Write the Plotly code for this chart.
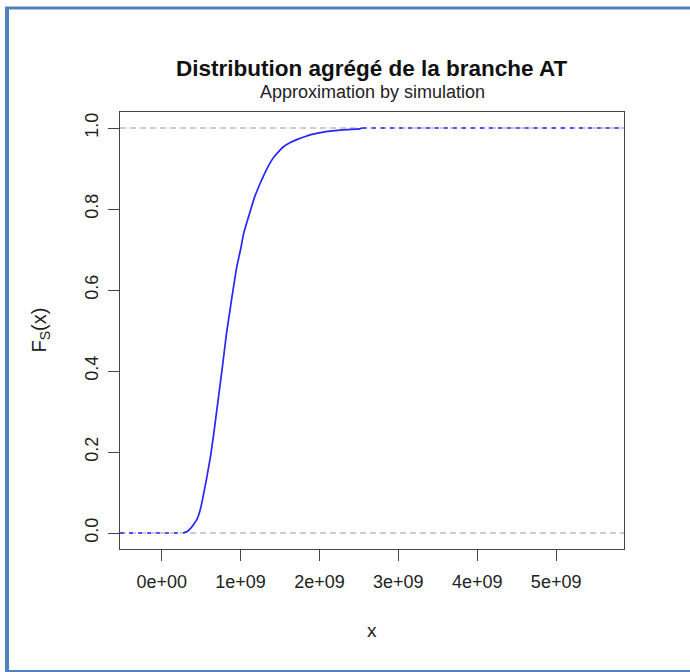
import plotly.graph_objects as go

# ECDF of simulated aggregate loss
x_vals = [0.27e9, 0.32e9, 0.36e9, 0.40e9, 0.45e9, 0.49e9, 0.52e9, 0.57e9, 0.62e9, 0.66e9,
          0.71e9, 0.77e9, 0.82e9, 0.885e9, 0.95e9, 1.00e9, 1.04e9, 1.10e9, 1.17e9,
          1.23e9, 1.28e9, 1.35e9, 1.41e9, 1.48e9, 1.54e9, 1.63e9, 1.72e9, 1.82e9,
          1.92e9, 2.05e9, 2.17e9, 2.35e9, 2.51e9, 2.55e9]
F_vals = [0.0, 0.003, 0.01, 0.02, 0.035, 0.058, 0.085, 0.135, 0.19, 0.245,
          0.32, 0.41, 0.49, 0.575, 0.655, 0.70, 0.74, 0.78, 0.825,
          0.855, 0.877, 0.905, 0.925, 0.941, 0.953, 0.964, 0.972, 0.979,
          0.985, 0.990, 0.993, 0.996, 0.998, 1.0]

x_range = [-0.528e9, 5.86e9]
y_range = [-0.0395, 1.0395]
x_ticks = [0, 1e9, 2e9, 3e9, 4e9, 5e9]
x_tick_labels = ["0e+00", "1e+09", "2e+09", "3e+09", "4e+09", "5e+09"]
y_ticks = [0.0, 0.2, 0.4, 0.6, 0.8, 1.0]
y_tick_labels = ["0.0", "0.2", "0.4", "0.6", "0.8", "1.0"]

title = "Distribution agrégé de la branche AT"
subtitle = "Approximation by simulation"

FONT = "Liberation Sans, Arial, sans-serif"
BLUE = "#2626ff"

fig = go.Figure()

# grey reference lines at 0 and 1
for h in [0.0, 1.0]:
    fig.add_trace(go.Scatter(x=x_range, y=[h, h], mode="lines",
                             line=dict(color="#bdbdbd", width=1.3, dash="6px,4px"),
                             hoverinfo="skip", showlegend=False))

# flat extensions of the ECDF
fig.add_trace(go.Scatter(x=[x_range[0], x_vals[0]], y=[F_vals[0], F_vals[0]], mode="lines",
                         line=dict(color=BLUE, width=1.5, dash="4px,5px"), showlegend=False))
fig.add_trace(go.Scatter(x=[x_vals[-1], x_range[1]], y=[F_vals[-1], F_vals[-1]], mode="lines",
                         line=dict(color=BLUE, width=1.5, dash="4px,5px"), showlegend=False))

# ECDF curve
fig.add_trace(go.Scatter(x=x_vals, y=F_vals, mode="lines",
                         line=dict(color=BLUE, width=1.7, shape="spline", smoothing=0.3),
                         showlegend=False))

axis_common = dict(showgrid=False, zeroline=False, showline=True, linecolor="#444",
                   linewidth=1.3, mirror=True, ticks="outside", ticklen=11,
                   tickwidth=1.3, tickcolor="#444",
                   tickfont=dict(family=FONT, size=18, color="#222"))

fig.update_xaxes(range=x_range, tickvals=x_ticks, ticktext=x_tick_labels,
                 ticklabelstandoff=5, **axis_common)
fig.update_yaxes(range=y_range, tickvals=y_ticks, ticktext=y_tick_labels,
                 tickangle=-90, ticklabelstandoff=3, **axis_common)

W, H = 690, 672
L, R, T, B = 120, 66, 112, 123
pw, ph = W - L - R, H - T - B

def px(xp):
    return (xp - L) / pw

def py(yp):
    return (H - B - yp) / ph

annotations = [
    dict(text="<b>" + title + "</b>", x=0.5, y=py(68), xref="paper", yref="paper",
         showarrow=False, xanchor="center", yanchor="middle",
         font=dict(family=FONT, size=22.5, color="#111")),
    dict(text=subtitle, x=0.5, y=py(92), xref="paper", yref="paper",
         showarrow=False, xanchor="center", yanchor="middle",
         font=dict(family=FONT, size=18, color="#222")),
    dict(text="x", x=0.5, y=py(630), xref="paper", yref="paper",
         showarrow=False, xanchor="center", yanchor="middle",
         font=dict(family=FONT, size=19, color="#222")),
    dict(text="F<sub>S</sub>(x)", x=px(40), y=0.5, xref="paper", yref="paper",
         showarrow=False, xanchor="center", yanchor="middle", textangle=-90,
         font=dict(family=FONT, size=20, color="#222")),
]

BORDER = "#4f81bd"
shapes = [
    dict(type="line", xref="paper", yref="paper", x0=px(7), x1=px(7), y0=py(7), y1=py(672),
         line=dict(color=BORDER, width=4)),
    dict(type="line", xref="paper", yref="paper", x0=px(5), x1=px(690), y0=py(8), y1=py(8),
         line=dict(color=BORDER, width=3)),
    dict(type="line", xref="paper", yref="paper", x0=px(5), x1=px(690), y0=py(671), y1=py(671),
         line=dict(color=BORDER, width=2)),
]

fig.update_layout(width=W, height=H, margin=dict(l=L, r=R, t=T, b=B),
                  paper_bgcolor="white", plot_bgcolor="white",
                  annotations=annotations, shapes=shapes, showlegend=False)

fig.write_html("out.html")
